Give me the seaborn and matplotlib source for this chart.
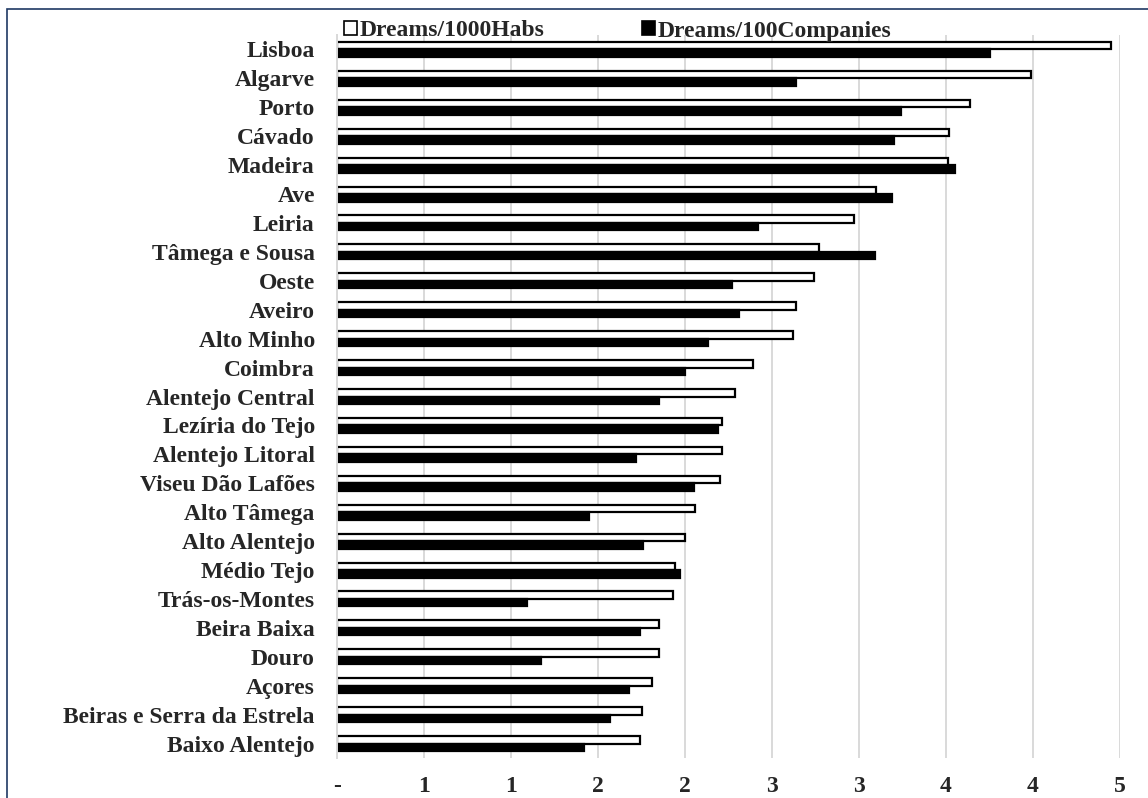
import matplotlib
matplotlib.use("Agg")
import matplotlib.pyplot as plt
from matplotlib.patches import Rectangle, Patch
import seaborn as sns
import pandas as pd

regions = [
    "Lisboa", "Algarve", "Porto", "Cávado", "Madeira", "Ave", "Leiria",
    "Tâmega e Sousa", "Oeste", "Aveiro", "Alto Minho", "Coimbra",
    "Alentejo Central", "Lezíria do Tejo", "Alentejo Litoral",
    "Viseu Dão Lafões", "Alto Tâmega", "Alto Alentejo", "Médio Tejo",
    "Trás-os-Montes", "Beira Baixa", "Douro", "Açores",
    "Beiras e Serra da Estrela", "Baixo Alentejo",
]
dreams_per_1000_habs = [
    4.45, 3.99, 3.64, 3.52, 3.51, 3.10, 2.97,
    2.77, 2.74, 2.64, 2.62, 2.39,
    2.29, 2.21, 2.21,
    2.20, 2.06, 2.00, 1.94,
    1.93, 1.85, 1.85, 1.81,
    1.75, 1.74,
]
dreams_per_100_companies = [
    3.75, 2.64, 3.24, 3.20, 3.55, 3.19, 2.42,
    3.09, 2.27, 2.31, 2.13, 2.00,
    1.85, 2.19, 1.72,
    2.05, 1.45, 1.76, 1.97,
    1.09, 1.74, 1.17, 1.68,
    1.57, 1.42,
]
series_names = ["Dreams/1000Habs", "Dreams/100Companies"]
tick_values = [0, 0.5, 1.0, 1.5, 2.0, 2.5, 3.0, 3.5, 4.0, 4.5]
tick_labels = ["-", "1", "1", "2", "2", "3", "3", "4", "4", "5"]

df = pd.DataFrame({
    "region": regions * 2,
    "value": dreams_per_1000_habs + dreams_per_100_companies,
    "series": [series_names[0]] * len(regions) + [series_names[1]] * len(regions),
})

sns.set_theme(style="white")
plt.rcParams["font.family"] = ["Liberation Serif", "DejaVu Serif"]
plt.rcParams["font.weight"] = "bold"
FS = 17

fig = plt.figure(figsize=(11.48, 7.98), dpi=100)
ax = fig.add_axes([337 / 1148, 1 - 758 / 798, (1120 - 337) / 1148, (758 - 35) / 798])

colors = {series_names[0]: "white", series_names[1]: "black"}
sns.barplot(
    data=df, y="region", x="value", hue="series", hue_order=series_names,
    order=regions, palette=colors, orient="h", width=0.52, dodge=True,
    edgecolor="black", linewidth=1.6, saturation=1, ax=ax, legend=False,
)

ax.set_xlim(0, 4.5)
ax.set_ylim(len(regions) - 0.5, -0.5)
ax.set_xticks(tick_values)
ax.set_xticklabels(tick_labels, fontsize=FS, fontweight="bold")
ax.tick_params(axis="x", length=0, pad=13)
ax.tick_params(axis="y", length=0, pad=16, labelsize=FS)
for lbl in ax.get_yticklabels():
    lbl.set_fontweight("bold")
ax.set_xlabel("")
ax.set_ylabel("")
ax.grid(axis="x", color="#d9d9d9", linewidth=1.4)
ax.set_axisbelow(True)
for side in ["top", "right", "bottom"]:
    ax.spines[side].set_visible(False)
ax.spines["left"].set_color("#d9d9d9")
ax.spines["left"].set_linewidth(1.4)

handles = [
    Patch(facecolor="white", edgecolor="black", linewidth=1.2),
    Patch(facecolor="black", edgecolor="black", linewidth=1.2),
]
fig.legend(
    handles, series_names, loc="center left", bbox_to_anchor=(344 / 1148, 1 - 31 / 798),
    ncol=2, frameon=False, handlelength=0.55, handleheight=0.55, handletextpad=0.1,
    columnspacing=4.15, borderpad=0, borderaxespad=0,
    prop={"family": "Liberation Serif", "weight": "bold", "size": FS},
)

# navy outline around the chart area
fig.patches.append(Rectangle(
    (7 / 1148, -0.05), 1.05, 1 - 9 / 798 + 0.05, transform=fig.transFigure,
    fill=False, edgecolor="#1f3864", linewidth=1.2, figure=fig,
))

fig.savefig("out.png", dpi=100)
